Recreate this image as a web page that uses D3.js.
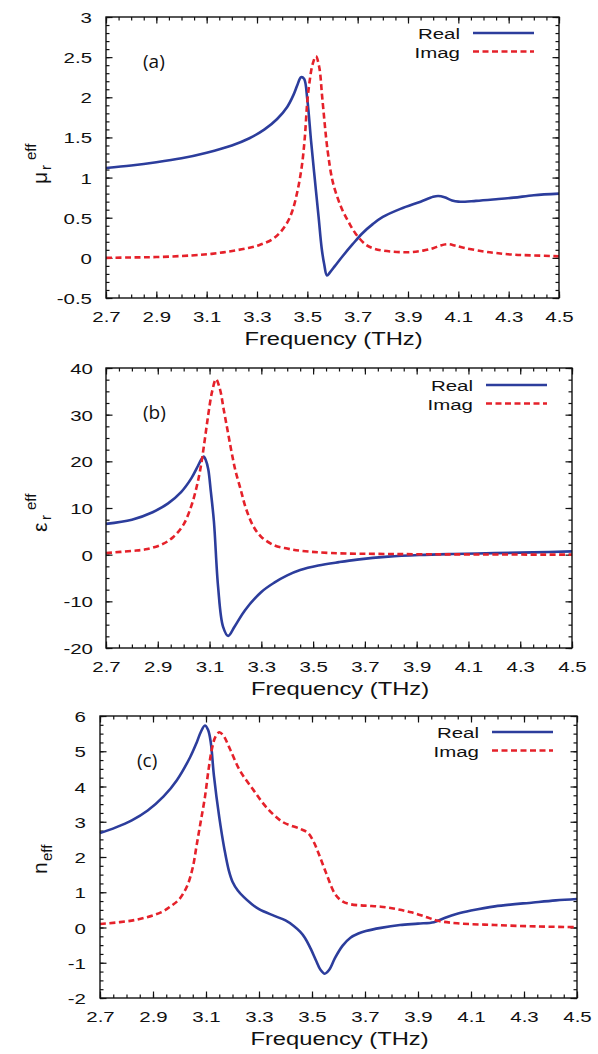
<!DOCTYPE html>
<html><head><meta charset="utf-8">
<script src="https://cdn.jsdelivr.net/npm/d3@7"></script>
<style>body{margin:0;background:#fff}svg{display:block}</style>
</head><body><svg id="c" width="598" height="1054"></svg>
<script>
// ---------- data ----------
const xTickLabels = [2.7, 2.9, 3.1, 3.3, 3.5, 3.7, 3.9, 4.1, 4.3, 4.5];
const muYTicks = [-0.5, 0, 0.5, 1, 1.5, 2, 2.5, 3];
const epsYTicks = [-20, -10, 0, 10, 20, 30, 40];
const nYTicks = [-2, -1, 0, 1, 2, 3, 4, 5, 6];
const seriesNames = ["Real", "Imag"];
const panelLabels = ["(a)", "(b)", "(c)"];

const muReal = [[2.70,1.12],[2.80,1.15],[2.90,1.19],[3.00,1.24],[3.10,1.31],[3.20,1.40],[3.27,1.49],[3.33,1.60],[3.38,1.73],[3.42,1.88],[3.445,2.03],[3.46,2.15],[3.475,2.25],[3.487,2.23],[3.50,1.97],[3.515,1.45],[3.53,0.97],[3.545,0.50],[3.557,0.12],[3.567,-0.08],[3.578,-0.22],[3.59,-0.18],[3.61,-0.10],[3.64,0.02],[3.68,0.17],[3.72,0.31],[3.76,0.42],[3.80,0.51],[3.87,0.61],[3.95,0.70],[4.00,0.76],[4.02,0.77],[4.045,0.755],[4.075,0.715],[4.10,0.70],[4.17,0.71],[4.25,0.73],[4.32,0.75],[4.40,0.78],[4.50,0.80]];
const muImag = [[2.70,0.00],[2.80,0.005],[2.90,0.01],[3.04,0.03],[3.12,0.05],[3.19,0.08],[3.26,0.12],[3.31,0.16],[3.36,0.23],[3.39,0.31],[3.42,0.44],[3.44,0.58],[3.46,0.82],[3.478,1.14],[3.49,1.50],[3.50,1.95],[3.51,2.22],[3.52,2.40],[3.534,2.51],[3.547,2.38],[3.56,1.97],[3.58,1.35],[3.60,0.96],[3.62,0.75],[3.64,0.59],[3.665,0.44],[3.69,0.31],[3.73,0.17],[3.76,0.12],[3.80,0.09],[3.90,0.07],[3.96,0.09],[4.00,0.12],[4.03,0.155],[4.06,0.17],[4.09,0.15],[4.13,0.12],[4.20,0.08],[4.25,0.06],[4.32,0.04],[4.40,0.03],[4.50,0.02]];

const epsReal = [[2.70,6.6],[2.80,7.5],[2.88,9.1],[2.94,11.0],[2.99,13.4],[3.03,16.4],[3.055,19.0],[3.068,20.4],[3.077,21.0],[3.086,20.2],[3.095,18.3],[3.105,13.5],[3.117,7.0],[3.133,-6.9],[3.152,-15.4],[3.172,-17.4],[3.197,-15.4],[3.237,-11.9],[3.30,-8.0],[3.35,-6.0],[3.40,-4.45],[3.45,-3.3],[3.52,-2.33],[3.60,-1.6],[3.67,-1.06],[3.79,-0.42],[3.91,-0.07],[4.04,0.14],[4.20,0.32],[4.35,0.5],[4.50,0.7]];
const epsImag = [[2.70,0.35],[2.80,0.8],[2.86,1.2],[2.92,2.3],[2.96,3.8],[3.00,6.5],[3.03,10.5],[3.05,14.5],[3.065,18.5],[3.08,24.0],[3.095,30.0],[3.11,35.0],[3.125,37.6],[3.14,35.5],[3.155,31.0],[3.17,26.5],[3.185,22.0],[3.20,18.0],[3.22,14.0],[3.24,10.0],[3.27,6.0],[3.30,3.8],[3.35,2.0],[3.40,1.3],[3.45,0.85],[3.57,0.35],[3.80,0.14],[4.10,0.05],[4.50,0.0]];

const nReal = [[2.70,2.68],[2.76,2.84],[2.82,3.04],[2.88,3.32],[2.94,3.72],[2.99,4.18],[3.04,4.83],[3.065,5.25],[3.08,5.54],[3.096,5.73],[3.108,5.6],[3.118,5.25],[3.13,4.3],[3.15,3.13],[3.17,2.2],[3.186,1.62],[3.20,1.30],[3.22,1.05],[3.243,0.86],[3.27,0.68],[3.30,0.52],[3.358,0.33],[3.40,0.2],[3.43,0.05],[3.455,-0.12],[3.473,-0.29],[3.495,-0.6],[3.516,-0.95],[3.532,-1.2],[3.548,-1.31],[3.565,-1.2],[3.587,-0.86],[3.615,-0.52],[3.645,-0.29],[3.675,-0.17],[3.703,-0.1],[3.76,-0.01],[3.832,0.07],[3.90,0.11],[3.96,0.15],[4.00,0.27],[4.048,0.39],[4.10,0.48],[4.19,0.60],[4.335,0.71],[4.42,0.77],[4.50,0.81]];
const nImag = [[2.70,0.10],[2.83,0.21],[2.93,0.43],[2.97,0.62],[3.00,0.81],[3.03,1.2],[3.05,1.7],[3.065,2.35],[3.08,3.0],[3.096,3.7],[3.11,4.5],[3.122,5.05],[3.135,5.4],[3.15,5.54],[3.165,5.45],[3.19,5.07],[3.228,4.45],[3.28,3.89],[3.328,3.41],[3.39,2.99],[3.455,2.8],[3.485,2.68],[3.505,2.45],[3.525,2.1],[3.553,1.55],[3.587,0.95],[3.615,0.74],[3.645,0.66],[3.70,0.62],[3.76,0.59],[3.82,0.52],[3.875,0.43],[3.93,0.3],[3.975,0.19],[4.048,0.12],[4.19,0.07],[4.35,0.03],[4.50,0.01]];

// ---------- styling ----------
const FONT = "'Liberation Sans', Arial, Helvetica, sans-serif";
const SX = 1.32;           // horizontal stretch of the original figure's text
const BLUE = "#2c3d9c", RED = "#e5212a";
const svg = d3.select("#c");

function panel(o) {
  const x = d3.scaleLinear().domain([2.7, 4.5]).range([o.left, o.right]);
  const y = d3.scaleLinear().domain(o.yDomain).range([o.bottom, o.top]);
  const g = svg.append("g");
  const minorX = d3.range(0, 37).map(i => 2.7 + i * 0.05);
  const minorY = d3.range(0, Math.round((o.yDomain[1] - o.yDomain[0]) / o.yMinor) + 1).map(i => o.yDomain[0] + i * o.yMinor);
  const clean = s => s.call(a => a.select(".domain").remove()).selectAll("line").attr("stroke", "#111").attr("stroke-width", 1.2);

  // minor ticks (all sides, inward)
  g.append("g").attr("transform", `translate(0,${o.bottom})`).call(d3.axisBottom(x).tickValues(minorX).tickSize(-3.5).tickFormat("")).call(clean);
  g.append("g").attr("transform", `translate(0,${o.top})`).call(d3.axisTop(x).tickValues(minorX).tickSize(-3.5).tickFormat("")).call(clean);
  g.append("g").attr("transform", `translate(${o.left},0)`).call(d3.axisLeft(y).tickValues(minorY).tickSize(-3.5).tickFormat("")).call(clean);
  g.append("g").attr("transform", `translate(${o.right},0)`).call(d3.axisRight(y).tickValues(minorY).tickSize(-3.5).tickFormat("")).call(clean);
  // major ticks
  const bx = g.append("g").attr("transform", `translate(0,${o.bottom})`).call(d3.axisBottom(x).tickValues(xTickLabels).tickSize(-6.5).tickFormat(d => String(d)));
  clean(bx);
  bx.selectAll("text").attr("y", null).attr("dy", null).attr("fill", "#111")
    .attr("font-family", FONT).attr("font-size", 15.5)
    .attr("transform", `translate(0,24) scale(${SX},1)`);
  g.append("g").attr("transform", `translate(0,${o.top})`).call(d3.axisTop(x).tickValues(xTickLabels).tickSize(-6.5).tickFormat("")).call(clean);
  const ly = g.append("g").attr("transform", `translate(${o.left},0)`).call(d3.axisLeft(y).tickValues(o.yTicks).tickSize(-6.5).tickFormat(d => String(d)));
  clean(ly);
  ly.selectAll("text").attr("x", null).attr("dy", null).attr("fill", "#111")
    .attr("font-family", FONT).attr("font-size", 15.5).attr("text-anchor", "end")
    .attr("transform", `translate(${-o.labelGap},5.5) scale(${SX},1)`);
  g.append("g").attr("transform", `translate(${o.right},0)`).call(d3.axisRight(y).tickValues(o.yTicks).tickSize(-6.5).tickFormat("")).call(clean);

  // curves
  const line = d3.line().x(d => x(d[0])).y(d => y(d[1])).curve(d3.curveCatmullRom.alpha(0.5));
  g.append("path").datum(o.real).attr("d", line).attr("fill", "none").attr("stroke", BLUE).attr("stroke-width", 2.6).attr("stroke-linejoin", "round");
  g.append("path").datum(o.imag).attr("d", line).attr("fill", "none").attr("stroke", RED).attr("stroke-width", 2.6).attr("stroke-dasharray", "6,3.5");

  // frame
  g.append("rect").attr("x", o.left).attr("y", o.top).attr("width", o.right - o.left).attr("height", o.bottom - o.top)
    .attr("fill", "none").attr("stroke", "#111").attr("stroke-width", 1.4);

  // x title
  g.append("text").attr("transform", `translate(${(o.left + o.right) / 2 + 1},${o.bottom + 47}) scale(${SX},1)`)
    .attr("text-anchor", "middle").attr("font-family", FONT).attr("font-size", 18).attr("fill", "#111").text("Frequency (THz)");

  // legend
  seriesNames.forEach((nm, i) => {
    const yy = o.legY + i * 18.5;
    g.append("text").attr("transform", `translate(${o.legTextX},${yy}) scale(${SX},1)`).attr("text-anchor", "end")
      .attr("font-family", FONT).attr("font-size", 15.5).attr("fill", "#111").text(nm);
    g.append("line").attr("x1", o.legTextX + 13).attr("x2", o.legTextX + 74).attr("y1", yy - 6).attr("y2", yy - 6)
      .attr("stroke", i === 0 ? BLUE : RED).attr("stroke-width", 2.6).attr("stroke-dasharray", i === 0 ? null : "6,3.5");
  });

  // panel label
  g.append("text").attr("x", o.left + 37).attr("y", o.top + 51).attr("font-family", "'Open Sans', sans-serif")
    .attr("font-size", 19).attr("fill", "#111").text(o.label);

  // y title (rotated)
  const t = g.append("g").attr("transform", `translate(47,${o.ylabY}) rotate(-90)`).attr("font-family", FONT).attr("fill", "#111");
  o.ylab(t);
}

panel({left: 106, right: 559, top: 17, bottom: 298, yDomain: [-0.5, 3], yTicks: muYTicks, yMinor: 0.1, labelGap: 14,
  real: muReal, imag: muImag, legTextX: 460, legY: 39, label: panelLabels[0], ylabY: 184,
  ylab: t => {
    t.append("text").attr("font-size", 21).text("μ");
    t.append("text").attr("x", 14).attr("y", 4).attr("font-size", 15).text("r");
    t.append("text").attr("x", 24).attr("y", -11).attr("font-size", 15).text("eff");
  }});
panel({left: 106, right: 572, top: 368, bottom: 648, yDomain: [-20, 40], yTicks: epsYTicks, yMinor: 2.5, labelGap: 13,
  real: epsReal, imag: epsImag, legTextX: 473, legY: 391, label: panelLabels[1], ylabY: 532,
  ylab: t => {
    t.append("text").attr("font-size", 21).text("ε");
    t.append("text").attr("x", 12).attr("y", 4).attr("font-size", 15).text("r");
    t.append("text").attr("x", 22).attr("y", -11).attr("font-size", 15).text("eff");
  }});
panel({left: 100, right: 577, top: 716, bottom: 998, yDomain: [-2, 6], yTicks: nYTicks, yMinor: 0.25, labelGap: 14,
  real: nReal, imag: nImag, legTextX: 479, legY: 738, label: panelLabels[2], ylabY: 874,
  ylab: t => {
    t.append("text").attr("font-size", 21).text("n");
    t.append("text").attr("x", 13).attr("y", 5).attr("font-size", 15).text("eff");
  }});
</script>
</body></html>
